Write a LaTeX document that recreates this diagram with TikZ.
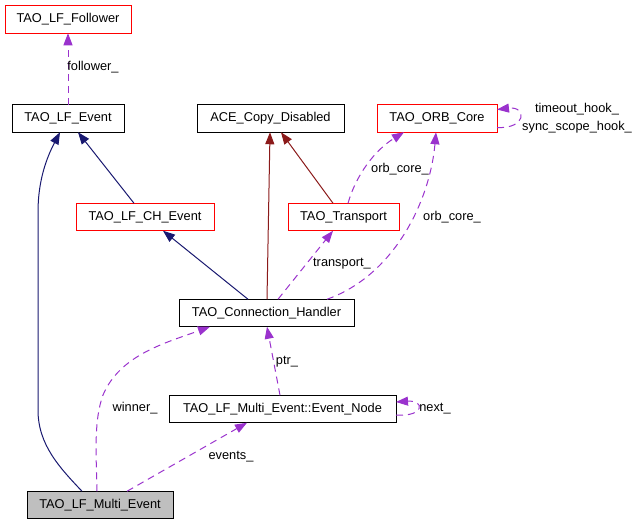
\documentclass[tikz,border=0pt]{standalone}
\usepackage{fontspec}
\setmainfont{Liberation Sans}
\usetikzlibrary{arrows.meta}
\definecolor{navyedge}{HTML}{191970}
\definecolor{rededge}{HTML}{8B1A1A}
\definecolor{purpleedge}{HTML}{9A32CD}
\definecolor{boxred}{HTML}{FF0000}
\definecolor{boxgray}{HTML}{BFBFBF}
\begin{document}
\begin{tikzpicture}[x=1pt,y=-1pt, font=\fontsize{12.8}{15}\selectfont,
  cls/.style={draw=black, line width=1pt, rectangle, minimum height=27.5pt, inner sep=0pt, outer sep=0pt},
  clsred/.style={cls, draw=boxred},
  clsgray/.style={cls, fill=boxgray},
  tipstyle/.style={-{Triangle[length=12pt,width=9pt]}},
  inherit/.style={draw=navyedge, line width=1pt, tipstyle},
  privinh/.style={draw=rededge, line width=1pt, tipstyle},
  usage/.style={draw=purpleedge, line width=1pt, dash pattern=on 7pt off 5pt, tipstyle},
  lbl/.style={inner sep=0pt, outer sep=0pt}]
\useasboundingbox (0,0) rectangle (640,525);

% classes
\node[clsred,  minimum width=126pt] (follower) at (68,19.5)  {TAO\_LF\_Follower};
\node[cls,     minimum width=112pt] (lfevent)  at (68,118.5) {TAO\_LF\_Event};
\node[cls,     minimum width=147pt] (ace)      at (270.5,118.5) {ACE\_Copy\_Disabled};
\node[clsred,  minimum width=120pt] (orb)      at (437,118.5) {TAO\_ORB\_Core};
\node[clsred,  minimum width=138pt] (chevent)  at (145,217)  {TAO\_LF\_CH\_Event};
\node[clsred,  minimum width=111pt] (transport) at (343.5,217) {TAO\_Transport};
\node[cls,     minimum width=175pt] (conn)     at (266.5,313) {TAO\_Connection\_Handler};
\node[cls,     minimum width=227pt] (enode)    at (282.5,409) {TAO\_LF\_Multi\_Event::Event\_Node};
\node[clsgray, minimum width=146pt] (multi)    at (100,505)  {TAO\_LF\_Multi\_Event};

% inheritance (public)
\draw[inherit] ([xshift=-18pt]multi.north) .. controls (60,468) and (38,445) .. (38,410)
  -- (38,212) .. controls (38,180) and (47,157) .. ([xshift=-8pt]lfevent.south);
\draw[inherit] ([xshift=-11pt]chevent.north) -- ([xshift=10pt]lfevent.south);
\draw[inherit] ([xshift=-18.5pt]conn.north) -- ([xshift=18pt]chevent.south);

% inheritance (private)
\draw[privinh] ([xshift=0.5pt]conn.north) -- ([xshift=-0.5pt]ace.south);
\draw[privinh] ([xshift=-10.5pt]transport.north) -- ([xshift=10.5pt]ace.south);

% usage
\draw[usage] (lfevent.north) -- (follower.south);
\node[lbl] (lfollower) at (93,67) {follower\_};

\draw[usage] ([xshift=4.5pt]transport.north) .. controls (356,175) and (375,150) .. ([xshift=-33pt]orb.south);
\node[lbl] (lorb1) at (400,169) {orb\_core\_};

\draw[usage] ([xshift=11.5pt]conn.north) -- ([xshift=-10.5pt]transport.south);
\node[lbl] (ltransport) at (342,264) {transport\_};

\draw[usage] ([xshift=60.5pt]conn.north) .. controls (395,275) and (430,200) .. ([xshift=-1pt]orb.south);
\node[lbl] (lorb2) at (452,217) {orb\_core\_};

\draw[usage] ([yshift=-9pt]orb.east) .. controls (527,129) and (527,106) .. ([yshift=9pt]orb.east);
\node[lbl] (ltimeout) at (577,109) {timeout\_hook\_};
\node[lbl] (lsync) at (577,127) {sync\_scope\_hook\_};

\draw[usage] ([xshift=-2.5pt]enode.north) -- ([xshift=0.5pt]conn.south);
\node[lbl] (lptr) at (287,362) {ptr\_};

\draw[usage] ([yshift=-6pt]enode.east) .. controls (425,417) and (425,400) .. ([yshift=7pt]enode.east);
\node[lbl] (lnext) at (435,409) {next\_};

\draw[usage] ([xshift=27pt]multi.north) -- ([xshift=-35.5pt]enode.south);
\node[lbl] (levents) at (231,457) {events\_};

\draw[usage] ([xshift=-3pt]multi.north) .. controls (96,450) and (94,420) .. (103,395)
  .. controls (120,355) and (165,343) .. ([xshift=-56.5pt]conn.south);
\node[lbl] (lwinner) at (135,408) {winner\_};
\end{tikzpicture}
\end{document}
